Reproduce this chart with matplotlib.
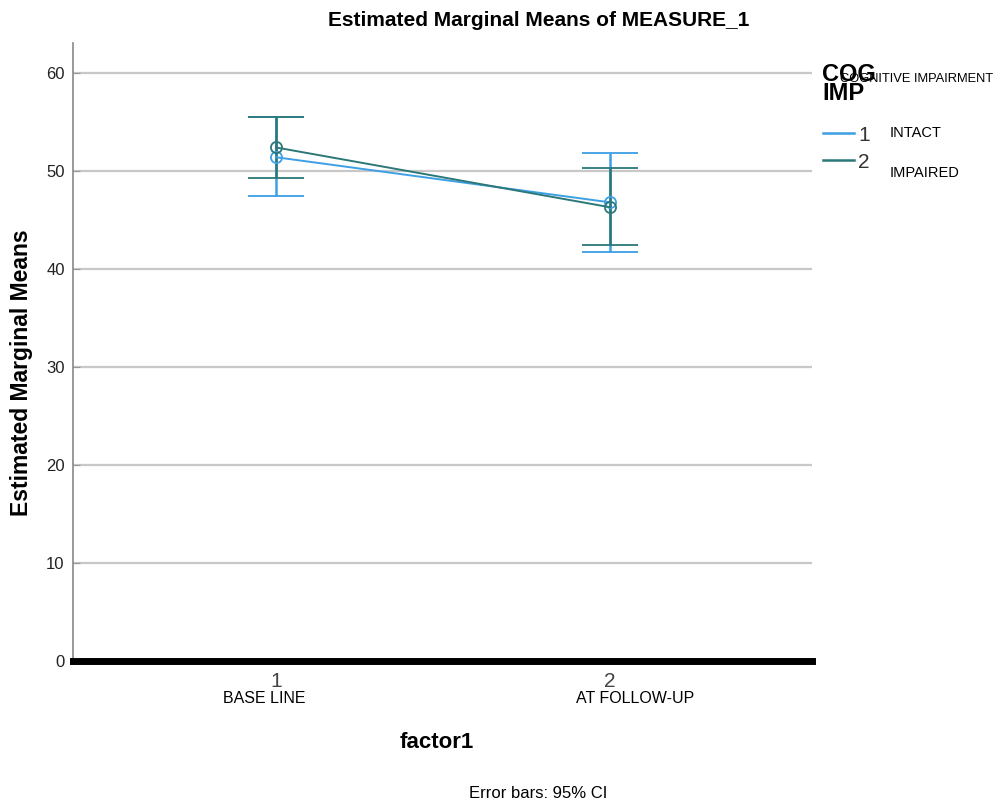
import matplotlib.pyplot as plt
from matplotlib.lines import Line2D

# data
levels = [1, 2]
level_names = ['BASE LINE', 'AT FOLLOW-UP']
groups = ['1', '2']
group_names = ['INTACT', 'IMPAIRED']
intact_mean = [51.4, 46.8]
intact_low = [47.4, 41.7]
intact_high = [55.5, 51.8]
impaired_mean = [52.4, 46.3]
impaired_low = [49.3, 42.4]
impaired_high = [55.5, 50.3]
yticks = [0, 10, 20, 30, 40, 50, 60]

BLUE = '#3d9fe4'
TEAL = '#2c7878'
SANS = ['Liberation Sans', 'DejaVu Sans']

plt.rcParams['font.family'] = SANS

fig = plt.figure(figsize=(10.03, 8.05), dpi=100)
ax = fig.add_axes([0.0728, 0.1789, 0.7368, 0.7677])
ax.set_xlim(0.392, 2.605)
ax.set_ylim(0, 63.06)

ax.set_yticks(yticks)
ax.yaxis.grid(True, color='#c8c8c8', linewidth=1.6, zorder=0)
ax.set_axisbelow(True)
for s in ['top', 'right', 'bottom']:
    ax.spines[s].set_visible(False)
ax.spines['left'].set_color('#888888')
ax.spines['left'].set_linewidth(1.2)
ax.axhline(0, color='black', linewidth=5, zorder=5, clip_on=False)
ax.tick_params(axis='y', direction='in', length=5, color='#999999',
               labelsize=12, labelcolor='#222222', pad=6)
ax.tick_params(axis='x', length=0, labelsize=15, labelcolor='#444444', pad=8)
ax.set_xticks(levels)
ax.set_xticklabels([str(v) for v in levels])

series = [
    (intact_mean, intact_low, intact_high, BLUE),
    (impaired_mean, impaired_low, impaired_high, TEAL),
]
for mean, low, high, col in series:
    err = [[m - lo for m, lo in zip(mean, low)], [hi - m for m, hi in zip(mean, high)]]
    ax.errorbar(levels, mean, yerr=err, color=col, linewidth=1.4,
                elinewidth=1.8, capsize=20, capthick=2.6,
                marker='o', markersize=8, markerfacecolor='none',
                markeredgecolor=col, markeredgewidth=1.3, zorder=3)

# category names sit a bit off the tick positions in the original
for x, name, dx in zip(levels, level_names, [-0.035, 0.075]):
    ax.text(x + dx, -3.8, name, ha='center', va='center', fontsize=11.5)

fig.text(539 / 1003, 1 - 20 / 805, 'Estimated Marginal Means of MEASURE_1',
         ha='center', va='center', fontsize=15, fontweight='bold')
fig.text(22 / 1003, 1 - 373 / 805, 'Estimated Marginal Means', rotation=90,
         ha='center', va='center', fontsize=16.5, fontweight='bold')
fig.text(437 / 1003, 1 - 742 / 805, 'factor1', ha='center', va='center',
         fontsize=16, fontweight='bold')
fig.text(538 / 1003, 1 - 793 / 805, 'Error bars: 95% CI', ha='center',
         va='center', fontsize=12)

# legend drawn by hand, like the SPSS output
fig.text(822 / 1003, 1 - 84 / 805, 'COG\nIMP', ha='left', va='center',
         fontsize=17, fontweight='bold', linespacing=0.8)
fig.text(840 / 1003, 1 - 79 / 805, 'COGNITIVE IMPAIRMENT', ha='left',
         va='center', fontsize=9.3)
for i, (g, name, col) in enumerate(zip(groups, group_names, [BLUE, TEAL])):
    yy = 1 - (133 + 27 * i) / 805
    fig.add_artist(Line2D([823 / 1003, 854 / 1003], [yy, yy], color=col,
                          linewidth=1.8, transform=fig.transFigure))
    fig.text(858 / 1003, yy - 0.003, g, ha='left', va='center', fontsize=15,
             color='#333333')
    fig.text(890 / 1003, yy + (0.0 if i == 0 else -0.016), name, ha='left',
             va='center', fontsize=10.5)

fig.savefig('out.png', dpi=100, facecolor='white')
